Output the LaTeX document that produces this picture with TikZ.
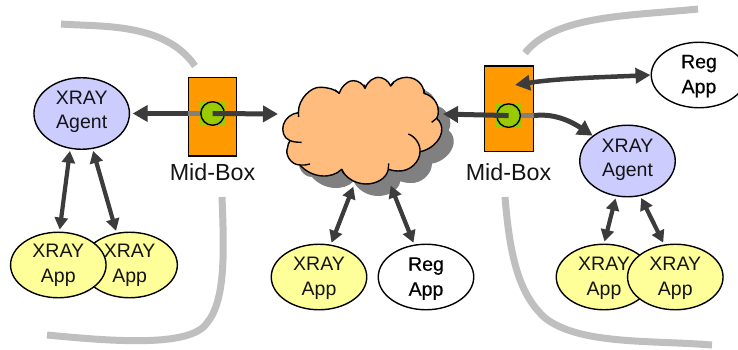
\documentclass[tikz,border=0pt]{standalone}
\usepackage{fontspec}
\setmainfont{Liberation Sans}
\newfontfamily\regfont[FakeBold=0.5]{Liberation Sans}
\usetikzlibrary{arrows.meta,calc,shapes.geometric}
\definecolor{linegray}{HTML}{BFBFBF}
\definecolor{shadowgray}{HTML}{808080}
\definecolor{arrowdark}{HTML}{3C3C3C}
\definecolor{cloudfill}{HTML}{FFBC7D}
\definecolor{boxorange}{HTML}{FF9900}
\definecolor{hubgreen}{HTML}{99CC00}
\definecolor{agentblue}{HTML}{CCCCFF}
\definecolor{appyellow}{HTML}{FFFF99}
\newcommand{\cloudpath}{(85,128) .. controls (85,85) and (125,50) .. (150,52) .. controls (175,52) and (195,58) .. (208,70)
 .. controls (215,45) and (240,30) .. (250,32) .. controls (265,32) and (280,42) .. (285,55)
 .. controls (295,30) and (315,22) .. (325,22) .. controls (340,22) and (355,32) .. (362,48)
 .. controls (372,28) and (395,22) .. (410,22) .. controls (440,22) and (462,45) .. (462,70)
 .. controls (490,78) and (505,100) .. (505,125) .. controls (505,132) and (504,138) .. (500,145)
 .. controls (512,155) and (517,170) .. (515,185) .. controls (510,215) and (480,240) .. (450,245)
 .. controls (450,275) and (420,305) .. (385,303) .. controls (372,303) and (362,300) .. (355,298)
 .. controls (350,325) and (320,343) .. (285,342) .. controls (250,340) and (225,320) .. (215,298)
 .. controls (185,328) and (125,325) .. (90,285)
 .. controls (60,285) and (45,250) .. (52,235) .. controls (53,225) and (57,217) .. (60,212)
 .. controls (40,205) and (35,180) .. (40,165) .. controls (45,145) and (65,130) .. (85,128) -- cycle}
\tikzset{
  every node/.style={font=\fontsize{19.5}{25}\selectfont, text=black!92, align=center, inner sep=0pt},
  bound/.style={draw=linegray, line width=7pt},
  bubble/.style={ellipse, draw=black, line width=1.4pt, minimum width=95.5pt, minimum height=65.5pt},
  agent/.style={bubble, fill=agentblue, minimum height=71.5pt},
  app/.style={bubble, fill=appyellow},
  reg/.style={bubble, fill=white, text=black, font=\fontsize{19.5}{25}\regfont},
  midbox/.style={rectangle, draw=black, line width=1.4pt, fill=boxorange, minimum width=47.5pt},
  hubsq/.style={rectangle, fill=hubgreen, minimum size=25pt},
  hub/.style={circle, draw=black, line width=1.4pt, fill=hubgreen, minimum size=23.5pt},
  stub/.style={draw=shadowgray, line width=5pt},
  bigarrow/.style={draw=arrowdark, line width=5pt, -{Triangle[length=15pt,width=16pt]}},
  dblbig/.style={draw=arrowdark, line width=4.5pt, {Triangle[length=15pt,width=15pt]}-{Triangle[length=15pt,width=15pt]}},
  dbl/.style={draw=arrowdark, line width=4.2pt, {Triangle[length=12pt,width=13pt]}-{Triangle[length=12pt,width=13pt]}, shorten <=2pt, shorten >=2pt},
  cloudline/.style={draw=black, line width=1.4pt, line join=round},
  midlabel/.style={font=\fontsize{23.3}{26}\selectfont}
}
\begin{document}
\begin{tikzpicture}[x=1pt,y=-1pt]
\useasboundingbox (0,0) rectangle (738,350);
\clip (0,0) rectangle (738,350);
% boundary curves
\draw[bound] (61,24) .. controls (100,27) and (165,22) .. (195,66);
\draw[bound] (222,197) .. controls (224,250) and (226,300) .. (207,323) .. controls (190,348) and (110,341) .. (47,335);
\draw[bound] (525,53) .. controls (555,15) and (630,16) .. (698,9);
\draw[bound] (505,197) .. controls (510,260) and (520,295) .. (545,318) .. controls (580,345) and (650,340) .. (712,345);
% cloud
\begin{scope}[shift={(270,70)},x=0.3333pt,y=-0.3333pt]
  \fill[shadowgray,shift={(36,36)}] \cloudpath;
  \draw[cloudline,fill=cloudfill] \cloudpath;
  \draw[cloudline] (85,128)--(86,141) (60,212) .. controls (70,216) and (82,217) .. (95,217)
    (90,285) .. controls (100,286) and (110,285) .. (120,282) (215,298)--(222,312)
    (355,298)--(356,280) (450,245) .. controls (452,225) and (437,200) .. (415,192)
    (500,145)--(485,157) (208,70)--(195,60) (285,55)--(284,44) (362,48)--(371,38) (462,70)--(463,58);
\end{scope}
\coordinate (cloudL) at (278,114);
\coordinate (cloudR) at (443,114);
\coordinate (cloudA) at (353.3,186.7);
\coordinate (cloudB) at (390.7,185.7);
% bubbles
\node[agent] (agentL) at (81.7,113.5) {XRAY\\[-1pt]Agent\rule[-8pt]{0pt}{0pt}};
\node[agent] (agentR) at (627.5,161) {XRAY\\[-1pt]Agent\rule[-6pt]{0pt}{0pt}};
\node[app] (appL2) at (129.6,265) {XRAY\\App};
\node[app] (appL1) at (58.3,265) {XRAY\\App};
\node[app] (appC) at (319,277) {\rule{0pt}{17pt}XRAY\\App};
\node[reg] (regC) at (426,277) {\rule{0pt}{16.5pt}Reg\\App};
\node[app] (appR1) at (604,277) {\rule{0pt}{16pt}XRAY\\App};
\node[app] (appR2) at (675.3,277) {\rule{0pt}{16pt}XRAY\\App};
\node[reg] (regR) at (699,75) {\rule{0pt}{15.5pt}Reg\\App};
% mid boxes
\node[midbox,minimum height=78.3pt] (midL) at (212.5,116.9) {};
\node[hubsq] (sqL) at (212.6,113.5) {};
\node[midbox,minimum height=85.3pt,minimum width=48.5pt] (midR) at (509,108.7) {};
\node[hubsq] (sqR) at (508.6,115.6) {};
\draw[stub] (midL.west |- sqL) -- (sqL.west);
\draw[stub] (sqR.east) -- (midR.east |- sqR);
\node[hub] (hubL) at (sqL) {};
\node[hub] (hubR) at (sqR) {};
\node[midlabel] (labL) at (212.5,172) {Mid-Box};
\node[midlabel] (labR) at (508.5,172) {Mid-Box};
\coordinate (midRport) at (515,85);
% connectors
\draw[bigarrow,shorten >=2.5pt] (midL.west |- sqL) -- (agentL.east);
\draw[bigarrow] (hubL.center) -- (cloudL);
\draw[bigarrow] (hubR.center) -- (cloudR);
\draw[bigarrow] (midR.east |- sqR) .. controls (555,113) and (572,122) .. (agentR.144);
\draw[dblbig] (midRport) .. controls (560,78) and (610,77) .. (regR.west);
\draw[dbl] (agentL.-108) -- (appL1.88);
\draw[dbl] (agentL.-73) -- (appL2.112);
\draw[dbl,shorten <=0pt] (cloudA) -- (appC.70);
\draw[dbl,shorten <=0pt] (cloudB) -- (regC.110);
\draw[dbl] (agentR.-108) -- (appR1.90);
\draw[dbl] (agentR.-70) -- (appR2.109);
\end{tikzpicture}
\end{document}
